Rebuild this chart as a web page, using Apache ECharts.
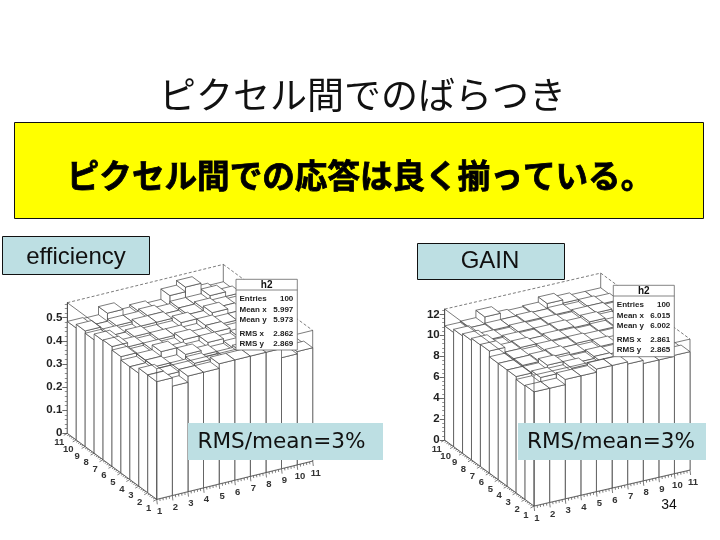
<!DOCTYPE html>
<html><head><meta charset="utf-8">
<style>html,body{margin:0;padding:0;background:#fff}#c{width:720px;height:540px}</style>
<script src="https://cdn.jsdelivr.net/npm/echarts@6/dist/echarts.min.js"></script>
</head><body><div id="c"></div>
<script>
// values: effRows[j][i] is bin x=i+1, y=j+1
const binAxis = [1,2,3,4,5,6,7,8,9,10,11];
const effRow1  = [.509,.473,.50,.50,.52,.52,.52,.52,.48,.49];
const effRow2  = [.51,.49,.50,.51,.49,.50,.51,.50,.49,.48];
const effRow3  = [.488,.50,.49,.52,.50,.49,.50,.51,.49,.48];
const effRow4  = [.488,.50,.52,.50,.49,.51,.49,.50,.50,.49];
const effRow5  = [.503,.49,.50,.49,.51,.50,.51,.49,.50,.49];
const effRow6  = [.518,.50,.49,.50,.50,.49,.51,.50,.50,.50];
const effRow7  = [.515,.49,.50,.49,.49,.51,.50,.52,.50,.49];
const effRow8  = [.49,.49,.48,.50,.50,.49,.50,.51,.50,.49];
const effRow9  = [.50,.48,.49,.49,.50,.49,.50,.50,.52,.50];
const effRow10 = [.484,.48,.515,.48,.49,.48,.525,.545,.50,.49];
const gainRow1  = [10.9,10.9,11.4,11.4,11.7,11.7,11.5,11.2,11.2,11.3];
const gainRow2  = [10.83,11.3,11.2,11.5,11.1,11.3,11.2,11.1,11.2,11.1];
const gainRow3  = [11.1,11.1,11.5,11.2,11.1,11.3,11.2,11.1,11.2,11.2];
const gainRow4  = [11.1,11.2,11.3,11.4,11.2,11.1,11.3,11.2,11.1,11.0];
const gainRow5  = [11.1,11.2,11.1,11.3,11.2,11.3,11.2,11.1,11.2,11.1];
const gainRow6  = [11.65,11.2,11.3,11.1,11.3,11.2,11.1,11.2,11.3,11.2];
const gainRow7  = [11.6,11.0,11.2,11.1,11.2,11.3,11.2,11.4,11.1,11.1];
const gainRow8  = [11.4,11.1,11.0,11.2,11.1,11.2,11.1,11.3,11.3,11.1];
const gainRow9  = [11.2,11.0,11.1,11.1,11.2,11.1,11.2,11.1,11.3,11.2];
const gainRow10 = [10.9,11.0,11.7,11.1,11.0,11.1,11.6,11.3,11.1,11.1];
const effRows = [effRow1,effRow2,effRow3,effRow4,effRow5,effRow6,effRow7,effRow8,effRow9,effRow10];
const gainRows = [gainRow1,gainRow2,gainRow3,gainRow4,gainRow5,gainRow6,gainRow7,gainRow8,gainRow9,gainRow10];
const effZTicks = [0,0.1,0.2,0.3,0.4,0.5];
const gainZTicks = [0,2,4,6,8,10,12];
const effStats = [['Entries','100'],['Mean x','5.997'],['Mean y','5.973'],['RMS x','2.862'],['RMS y','2.869']];
const gainStats = [['Entries','100'],['Mean x','6.015'],['Mean y','6.002'],['RMS x','2.861'],['RMS y','2.865']];

const INK = '#444';
const statOffsets = [19,30.7,40.7,54.2,64.7];
const plots = [
  {rows:effRows, zTicks:effZTicks, zMax:0.565, zi:0.1, zLab:v=>v===0?'0':v.toFixed(1),
   F:[156.7,499.3], R:[312.7,461], L:[67.3,433.3], top:302.7, stats:effStats, box:[236,279.3,61.3,70.7]},
  {rows:gainRows, zTicks:gainZTicks, zMax:12.5, zi:2, zLab:v=>String(v),
   F:[534,506], R:[690,470], L:[444.7,440], top:309.1, stats:gainStats, box:[613.3,285.3,61,71.4]}
];
function sortedBins(rows){
  const out=[];
  rows.forEach((r,j)=>r.forEach((z,i)=>out.push([i+1,j+1,z])));
  out.sort((a,b)=>(b[0]+b[1])-(a[0]+a[1]));
  return out;
}
const chart = echarts.init(document.getElementById('c'),null,{renderer:'canvas'});
const grids=[],xAxes=[],yAxes=[],series=[],graphic=[];
plots.forEach((p,k)=>{
  const proj=(api,x,y,z)=>{
    const u=(x-1)/10,v=(y-1)/10;
    const base=api.coord([1,0])[1], zy=api.coord([1,z])[1];
    return [p.F[0]+u*(p.R[0]-p.F[0])+v*(p.L[0]-p.F[0]),
            p.F[1]+u*(p.R[1]-p.F[1])+v*(p.L[1]-p.F[1])+(zy-base)];
  };
  const line=(a,b,dash)=>({type:'line',shape:{x1:a[0],y1:a[1],x2:b[0],y2:b[1]},
      style:{stroke:INK,lineWidth:0.7,lineDash:dash?[3,2]:null}});
  grids.push({left:p.L[0],top:p.top,width:p.R[0]-p.L[0],height:p.L[1]-p.top,containLabel:false});
  xAxes.push({gridIndex:k,type:'value',min:1,max:11,show:false});
  yAxes.push({gridIndex:k,type:'value',min:0,max:p.zMax,interval:p.zi,
    axisLine:{show:true,onZero:false,lineStyle:{color:INK,width:0.8}},
    axisTick:{show:true,length:5,lineStyle:{color:INK,width:0.8},customValues:p.zTicks},
    minorTick:{show:true,length:2.5,splitNumber:5,lineStyle:{color:INK,width:0.6}},
    splitLine:{show:false},
    axisLabel:{customValues:p.zTicks,formatter:p.zLab,fontFamily:'Liberation Sans',fontWeight:'bold',fontSize:11.5,color:'#222',margin:5,padding:[3,0,0,0]}});
  const walls=(params,api)=>{
    const zt=p.zMax, pt=(x,y,z)=>proj(api,x,y,z);
    const kids=[
      line(pt(1,11,zt),pt(11,11,zt),true),line(pt(11,11,zt),pt(11,1,zt),true),
      line(pt(1,11,zt),pt(1,11,0),false),line(pt(11,11,zt),pt(11,11,0),false),
      line(pt(11,1,zt),pt(11,1,0),false)
    ];
    binAxis.forEach((t,idx)=>{
      const a=pt(t,1,0),b=pt(1,t,0);
      kids.push(line(a,[a[0]+0.6,a[1]+5]));
      kids.push(line(b,[b[0]-3.5,b[1]+2]));
      if(idx<10) for(let m=1;m<5;m++){
        const a2=pt(t+m/5,1,0),b2=pt(1,t+m/5,0);
        kids.push(line(a2,[a2[0]+0.3,a2[1]+2.5]));
        kids.push(line(b2,[b2[0]-1.8,b2[1]+1]));
      }
      kids.push({type:'text',x:a[0]+3,y:a[1]+12,style:{text:String(t),font:'bold 9.5px "Liberation Sans"',fill:'#333',textAlign:'center',textVerticalAlign:'middle'}});
      kids.push({type:'text',x:b[0]-8,y:b[1]+9.5,style:{text:String(t),font:'bold 9.5px "Liberation Sans"',fill:'#333',textAlign:'center',textVerticalAlign:'middle'}});
    });
    kids.push(line(pt(1,1,0),pt(11,1,0)));
    kids.push(line(pt(1,1,0),pt(1,11,0)));
    return {type:'group',children:kids};
  };
  series.push({type:'custom',name:'walls'+k,xAxisIndex:k,yAxisIndex:k,coordinateSystem:'cartesian2d',z:2,silent:true,clip:false,
    data:[[1,0]],renderItem:walls,animation:false});
  const bar=(params,api)=>{
    const x=api.value(0),y=api.value(1),z=api.value(2);
    const c=(a,b,h)=>proj(api,a,b,h);
    const st={fill:'#fff',stroke:INK,lineWidth:0.7,lineJoin:'round'};
    const poly=pts=>({type:'polygon',shape:{points:pts},style:st});
    return {type:'group',children:[
      poly([c(x,y,0),c(x+1,y,0),c(x+1,y,z),c(x,y,z)]),
      poly([c(x,y,0),c(x,y+1,0),c(x,y+1,z),c(x,y,z)]),
      poly([c(x,y,z),c(x+1,y,z),c(x+1,y+1,z),c(x,y+1,z)])
    ]};
  };
  series.push({type:'custom',name:'bins'+k,xAxisIndex:k,yAxisIndex:k,coordinateSystem:'cartesian2d',z:3,silent:true,clip:false,
    encode:{x:0,y:2},data:sortedBins(p.rows),renderItem:bar,animation:false,progressive:0});
  const frontBox=(params,api)=>{
    const zt=p.zMax, pt=(x,y,z)=>proj(api,x,y,z);
    return {type:'group',children:[
      line(pt(1,11,zt),pt(1,1,zt)),line(pt(1,1,zt),pt(11,1,zt)),line(pt(1,1,zt),pt(1,1,0))
    ]};
  };
  series.push({type:'custom',name:'front'+k,xAxisIndex:k,yAxisIndex:k,coordinateSystem:'cartesian2d',z:4,silent:true,clip:false,
    data:[[1,0]],renderItem:frontBox,animation:false});
  const [bx,by,bw,bh]=p.box;
  graphic.push({type:'rect',z:50,shape:{x:bx,y:by,width:bw,height:bh},style:{fill:'#fff',stroke:'#666',lineWidth:0.8}});
  graphic.push({type:'line',z:51,shape:{x1:bx,y1:by+10.7,x2:bx+bw,y2:by+10.7},style:{stroke:'#666',lineWidth:0.8}});
  graphic.push({type:'text',z:51,x:bx+bw/2,y:by+6,style:{text:'h2',font:'bold 10px "Liberation Sans"',fill:'#111',textAlign:'center',textVerticalAlign:'middle'}});
  p.stats.forEach((s,i)=>{
    const ty=by+statOffsets[i];
    graphic.push({type:'text',z:51,x:bx+3.5,y:ty,style:{text:s[0],font:'bold 8px "Liberation Sans"',fill:'#222',textVerticalAlign:'middle'}});
    graphic.push({type:'text',z:51,x:bx+bw-4,y:ty,style:{text:s[1],font:'bold 8px "Liberation Sans"',fill:'#222',textAlign:'right',textVerticalAlign:'middle'}});
  });
});
const labelBox=(x,y,w,h,text,border,font,cx,cy)=>{
  graphic.push({type:'rect',z:60,shape:{x,y,width:w,height:h},style:{fill:'#bddfe3',stroke:border?'#111':null,lineWidth:border?1:0}});
  graphic.push({type:'text',z:61,x:cx,y:cy,style:{text,font,fill:'#111',textAlign:'center',textVerticalAlign:'middle'}});
};
graphic.push({type:'text',z:60,x:362.5,y:95,style:{text:'ピクセル間でのばらつき',font:'37px "Noto Sans CJK JP"',fill:'#111',textAlign:'center',textVerticalAlign:'middle'}});
graphic.push({type:'rect',z:60,shape:{x:14.5,y:122.5,width:689,height:96},style:{fill:'#ffff00',stroke:'#111',lineWidth:1}});
graphic.push({type:'text',z:61,x:360,y:176,style:{text:'ピクセル間での応答は良く揃っている。',font:'bold 32.6px "Noto Sans CJK JP"',fill:'#000',stroke:'#000',lineWidth:0.8,textAlign:'center',textVerticalAlign:'middle'}});
labelBox(2.5,236.5,147,38,'efficiency',true,'24px "Liberation Sans"',76,257);
labelBox(417.5,243.5,147,36,'GAIN',true,'24px "Liberation Sans"',490,261.5);
labelBox(188,423,195,37,'RMS/mean=3%',false,'21.6px "DejaVu Sans"',281.5,442);
labelBox(518,423,188,37,'RMS/mean=3%',false,'21.6px "DejaVu Sans"',611,442);
graphic.push({type:'text',z:61,x:669,y:505,style:{text:'34',font:'14px "Liberation Sans"',fill:'#111',textAlign:'center',textVerticalAlign:'middle'}});
chart.setOption({animation:false,backgroundColor:'#fff',grid:grids,xAxis:xAxes,yAxis:yAxes,series,graphic:{elements:graphic}});
</script></body></html>
